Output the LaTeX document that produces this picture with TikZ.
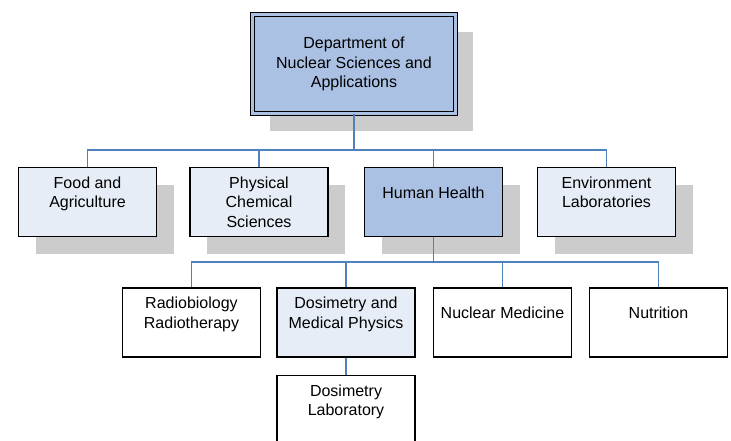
\documentclass[tikz,border=0pt]{standalone}
\usepackage{fontspec}
\setmainfont{Liberation Sans}
\usepackage{xcolor}
\definecolor{DeptBlue}{HTML}{ABC1E3}
\definecolor{UnitBlue}{HTML}{E7EDF7}
\definecolor{LinkBlue}{HTML}{4F81BD}
\definecolor{ShadowGray}{HTML}{CCCCCC}
\usetikzlibrary{positioning,shadows}

\begin{document}
\begin{tikzpicture}[x=0.75pt,y=-0.75pt,
    unit/.style={draw, line width=0.9pt, fill=white, align=center, inner sep=0pt,
        minimum width=103.5pt, minimum height=51.75pt, font=\fontsize{12}{14.6}\selectfont},
    shade/.style={drop shadow={shadow xshift=13pt, shadow yshift=-13pt, fill=ShadowGray, opacity=1}},
    link/.style={draw=LinkBlue, line width=1.1pt}]
    \useasboundingbox (0,0) rectangle (731,441);

    % department
    \node[unit, shade, fill=DeptBlue, line width=0.75pt, double=DeptBlue, double distance=2.25pt,
        minimum width=152pt, minimum height=74pt] (dept) at (354,64) {Department of\\Nuclear Sciences and\\Applications};

    % divisions
    \node[unit, shade, fill=UnitBlue] (food) at (87.5,202) {Food and\\Agriculture\\~};
    \node[unit, shade, fill=UnitBlue] (phys) at (259,202) {Physical\\Chemical\\Sciences};
    \node[unit, shade, fill=DeptBlue] (human) at (433.5,202) {Human Health\\~};
    \node[unit, shade, fill=UnitBlue] (envir) at (606.5,202) {Environment\\Laboratories\\~};

    % sections
    \node[unit] (radio) at (191.5,322.5) {Radiobiology\\Radiotherapy\\~};
    \node[unit, fill=UnitBlue] (dosi) at (346,322.5) {Dosimetry and\\Medical Physics\\~};
    \node[unit] (nucmed) at (502.5,322.5) {Nuclear Medicine\\~};
    \node[unit] (nutri) at (658.5,322.5) {Nutrition\\~};
    \node[unit, below=12.75pt of dosi] (dosilab) {Dosimetry\\Laboratory\\~};

    % connectors
    \coordinate (bus1) at (354,150);
    \coordinate (bus2) at (433.5,262);
    \draw[link] (dept.south) -- (bus1);
    \foreach \n in {food,phys,human,envir}
        \draw[link] (bus1) -| (\n.north);
    \draw[link] (human.south) -- (bus2);
    \foreach \n in {radio,dosi,nucmed,nutri}
        \draw[link] (bus2) -| (\n.north);
    \draw[link] (dosi.south) -- (dosilab.north);
\end{tikzpicture}
\end{document}
